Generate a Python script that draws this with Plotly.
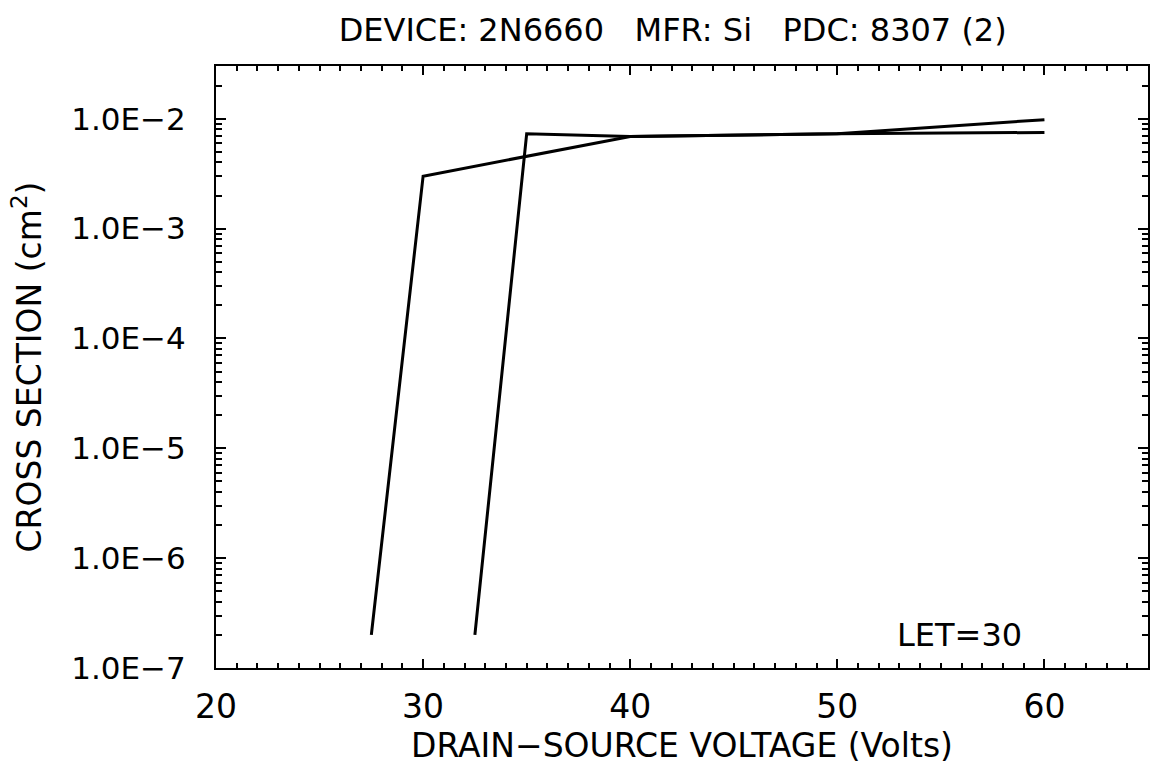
import plotly.graph_objects as go
import math

# Data
voltage_a = [27.5, 30, 40, 50, 60]
cross_a = [2.0e-7, 3.0e-3, 6.9e-3, 7.3e-3, 9.8e-3]
voltage_b = [32.5, 35, 40, 50, 60]
cross_b = [2.0e-7, 7.3e-3, 6.9e-3, 7.3e-3, 7.5e-3]

y_tickvals = [1e-7, 1e-6, 1e-5, 1e-4, 1e-3, 1e-2]
y_ticktext = ["1.0E\u22127", "1.0E\u22126", "1.0E\u22125", "1.0E\u22124", "1.0E\u22123", "1.0E\u22122"]
x_tickvals = [20, 30, 40, 50, 60]

title_text = "DEVICE: 2N6660   MFR: Si   PDC: 8307 (2)"
x_title = "DRAIN\u2212SOURCE VOLTAGE (Volts)"
y_title = "CROSS SECTION (cm<sup>2</sup>)"
let_label = "LET=30"

FONT = "DejaVu Sans"

fig = go.Figure()
for xs, ys in [(voltage_a, cross_a), (voltage_b, cross_b)]:
    fig.add_trace(go.Scatter(x=xs, y=ys, mode="lines",
                             line=dict(color="black", width=3),
                             showlegend=False, hoverinfo="skip"))

fig.update_layout(
    width=1156, height=772,
    margin=dict(l=216, r=6, t=66, b=104),
    paper_bgcolor="white", plot_bgcolor="white",
    font=dict(family=FONT, color="black", size=33),
    title=dict(text=title_text, x=0.49, xref="paper", y=1 - 30 / 772,
               yref="container", yanchor="middle", xanchor="center",
               font=dict(family=FONT, size=32, color="black")),
)

fig.update_xaxes(
    range=[20, 65], tickvals=x_tickvals, ticks="inside", ticklen=9, tickwidth=2,
    tickcolor="black", showline=True, linecolor="black", linewidth=2,
    mirror="allticks", showgrid=False, zeroline=False,
    tickfont=dict(family=FONT, size=33, color="black"),
    ticklabelstandoff=8,
    minor=dict(dtick=1, ticks="inside", ticklen=5, tickwidth=1.5, tickcolor="black", showgrid=False),
    title=dict(text=x_title, standoff=8, font=dict(family=FONT, size=33, color="black")),
)

fig.update_yaxes(
    type="log", range=[-7, -1.52], tickvals=y_tickvals, ticktext=y_ticktext,
    ticks="inside", ticklen=10, tickwidth=2, tickcolor="black",
    showline=True, linecolor="black", linewidth=2, mirror="allticks",
    showgrid=False, zeroline=False,
    tickfont=dict(family=FONT, size=31, color="black"),
    ticklabelstandoff=22,
    minor=dict(dtick="D1", ticks="inside", ticklen=6, tickwidth=1.5, tickcolor="black", showgrid=False),
    title=dict(text=y_title, standoff=20, font=dict(family=FONT, size=33, color="black")),
)

fig.add_annotation(x=55.9, y=math.log10(2.0e-7), xref="x", yref="y", text=let_label,
                   showarrow=False, font=dict(family=FONT, size=32, color="black"))

fig.write_html("out.html")
